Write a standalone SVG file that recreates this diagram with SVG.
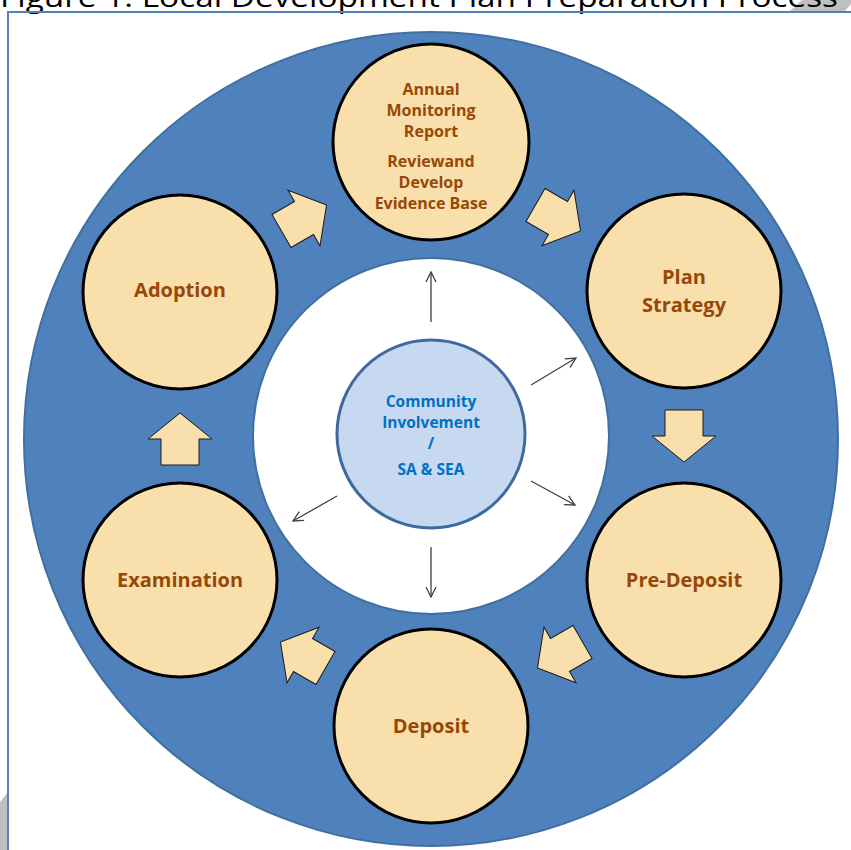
<svg xmlns="http://www.w3.org/2000/svg" width="851" height="850" viewBox="0 0 851 850">
<defs>
<style>
.node{fill:#f8dfac;stroke:#000;stroke-width:3}
.lbl{font-family:"Open Sans","Liberation Sans",sans-serif;font-weight:bold;fill:#974806;text-anchor:middle}
.big{font-size:20px}
.sm{font-size:16px}
.ctr{font-family:"Open Sans","Liberation Sans",sans-serif;font-weight:bold;fill:#0070c0;text-anchor:middle;font-size:15.5px}
.blk{fill:#f8dfac;stroke:#1a1a1a;stroke-width:1;stroke-linejoin:miter}
.thin{stroke:#404040;stroke-width:1.3;fill:none;marker-end:url(#open)}
</style>
<marker id="open" viewBox="0 0 12 12" refX="11" refY="6" markerWidth="12" markerHeight="12" markerUnits="userSpaceOnUse" orient="auto">
<path d="M1,1 L11,6 L1,11" fill="none" stroke="#404040" stroke-width="1.3"/>
</marker>
<path id="blkarrow" d="M-26,-19 L0,-19 L0,-32 L26,0 L0,32 L0,19 L-26,19 Z"/>
</defs>
<rect width="851" height="850" fill="#fff"/>
<polygon points="790,11 802,0 851,0 851,4 845,11" fill="#bfbfbf"/>
<polygon points="0,802 8,792 8,850 0,850" fill="#bfbfbf"/>
<text x="0" y="7" font-family="'Open Sans','Liberation Sans',sans-serif" font-size="27" fill="#000" textLength="838" lengthAdjust="spacingAndGlyphs">Figure 1: Local Development Plan Preparation Process</text>
<path d="M8,850 L8,12 L851,12" fill="none" stroke="#4f81bd" stroke-width="2"/>
<g id="ring">
<circle cx="431" cy="439" r="407" fill="#4f81bd" stroke="#41709f" stroke-width="2"/>
<circle cx="431" cy="436" r="178" fill="#fff" stroke="#41709f" stroke-width="2"/>
</g>
<g id="cycle-arrows">
<use href="#blkarrow" class="blk" transform="translate(304,218) rotate(-30)"/>
<use href="#blkarrow" class="blk" transform="translate(558,218) rotate(30)"/>
<use href="#blkarrow" class="blk" transform="translate(684,436) rotate(90)"/>
<use href="#blkarrow" class="blk" transform="translate(560,655) rotate(150)"/>
<use href="#blkarrow" class="blk" transform="translate(303,655) rotate(210)"/>
<use href="#blkarrow" class="blk" transform="translate(180,439) rotate(-90)"/>
</g>
<g id="connectors">
<line class="thin" x1="431" y1="322" x2="431" y2="272"/>
<line class="thin" x1="531" y1="385" x2="576" y2="358"/>
<line class="thin" x1="531" y1="481" x2="575" y2="505"/>
<line class="thin" x1="431" y1="547" x2="431" y2="597"/>
<line class="thin" x1="337" y1="496" x2="293" y2="521"/>
</g>
<g id="center">
<circle cx="431" cy="434" r="94" fill="#c6d9f1" stroke="#3e6a9e" stroke-width="3"/>
<text class="ctr" x="431" y="407">Community</text>
<text class="ctr" x="431" y="428">Involvement</text>
<text class="ctr" x="431" y="449">/</text>
<text class="ctr" x="431" y="475">SA &amp; SEA</text>
</g>
<g id="amr">
<circle class="node" cx="431" cy="142" r="98"/>
<text class="lbl sm" x="431" y="95">Annual</text>
<text class="lbl sm" x="431" y="116">Monitoring</text>
<text class="lbl sm" x="431" y="137">Report</text>
<text class="lbl sm" x="431" y="167">Reviewand</text>
<text class="lbl sm" x="431" y="188">Develop</text>
<text class="lbl sm" x="431" y="209">Evidence Base</text>
</g>
<g id="plan-strategy">
<circle class="node" cx="684" cy="291" r="97"/>
<text class="lbl big" x="684" y="284">Plan</text>
<text class="lbl big" x="684" y="312">Strategy</text>
</g>
<g id="pre-deposit">
<circle class="node" cx="684" cy="580" r="97"/>
<text class="lbl big" x="684" y="587">Pre-Deposit</text>
</g>
<g id="deposit">
<circle class="node" cx="431" cy="726" r="97"/>
<text class="lbl big" x="431" y="733">Deposit</text>
</g>
<g id="examination">
<circle class="node" cx="180" cy="580" r="97"/>
<text class="lbl big" x="180" y="587">Examination</text>
</g>
<g id="adoption">
<circle class="node" cx="180" cy="292" r="97"/>
<text class="lbl big" x="180" y="297">Adoption</text>
</g>
</svg>
